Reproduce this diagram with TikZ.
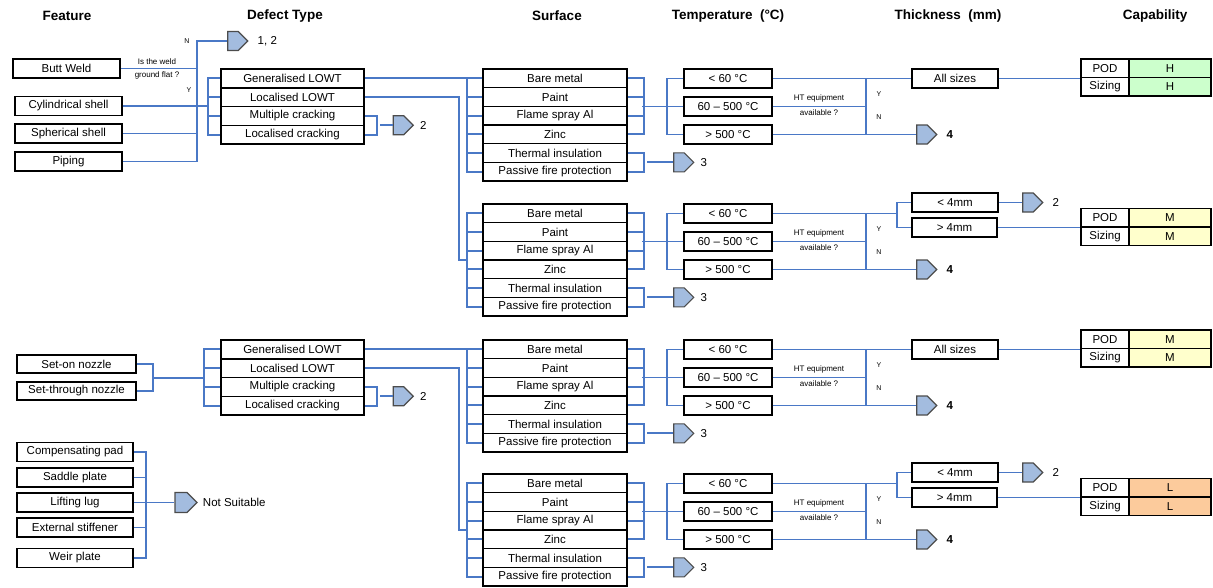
\documentclass[tikz,border=0pt]{standalone}
\usepackage{fontspec}
\setmainfont{Liberation Sans}
\usetikzlibrary{shapes.symbols,calc}
\definecolor{lnblue}{HTML}{4A78C6}
\definecolor{connfill}{HTML}{A3BCDF}
\definecolor{capH}{HTML}{CCFFCC}
\definecolor{capM}{HTML}{FFFFCC}
\definecolor{capL}{HTML}{FCCB9C}
\tikzset{
  bx/.style={draw=black, line width=1.5pt, rectangle, inner sep=0pt, font=\fontsize{11.5}{12}\selectfont},
  ln/.style={draw=lnblue, line width=1.9pt},
  offp/.style={signal, signal to=east, signal pointer angle=90, draw=black!70, line width=1.1pt, fill=connfill, minimum width=20pt, minimum height=19pt, inner sep=0pt},
  hdr/.style={font=\fontsize{13.5}{15}\selectfont\bfseries, inner sep=0pt},
  tiny/.style={font=\fontsize{8}{9}\selectfont, inner sep=0pt},
  yn/.style={font=\fontsize{7}{8}\selectfont, inner sep=0pt},
  num/.style={font=\fontsize{11.5}{12}\selectfont, anchor=west, inner sep=0pt},
  cell/.style={bx, minimum height=18.5pt},
}

\newcommand{\defgroup}[3]{% prefix, top, bracket offset
  \foreach \t [count=\i] in {Generalised LOWT,Localised LOWT,Multiple cracking,Localised cracking}{
    \node[bx, minimum width=143pt, minimum height=18.75pt] (#1d\i) at (292.5,{#2+18.75*(\i-0.5)}) {\t};
  }
  \draw[ln] (#1d1.west) -- ++(-#3,0) |- (#1d4.west);
  \draw[ln] (#1d2.west) -- ++(-#3,0);
  \draw[ln] (#1d3.west) -- ++(-#3,0);
  \node[offp] (#1p2) at (398.5,{#2+56.25}) {};
  \node[num] (#1n2) at ([xshift=6pt]#1p2.east) {2};
  \draw[ln] (#1d3.east) -- ++(12,0) |- (#1d4.east);
  \draw[ln] (#1p2.west) -- ++(-13,0);
}

\newcommand{\surfgroup}[2]{% prefix, top
  \foreach \t [count=\i] in {Bare metal,Paint,Flame spray Al,Zinc,Thermal insulation,Passive fire protection}{
    \node[bx, minimum width=144pt, minimum height=18.67pt] (#1s\i) at (555,{#2+18.67*(\i-0.5)}) {\t};
  }
  \draw[ln] (#1s1.west) -- ++(-15,0) |- (#1s6.west);
  \foreach \i in {2,...,5}{\draw[ln] (#1s\i.west) -- ++(-15,0);}
  \draw[ln] (#1s1.east) -- ++(16,0) |- (#1s4.east);
  \draw[ln] (#1s2.east) -- ++(16,0);
  \draw[ln] (#1s3.east) -- ++(16,0);
  \draw[ln] (#1s5.east) -- ++(16,0) |- (#1s6.east);
  \node[offp] (#1p3) at (679,{#2+93.33}) {};
  \node[num] (#1n3) at ([xshift=6pt]#1p3.east) {3};
  \draw[ln] (#1p3.west) -- ++(-26,0);
  \node[bx, minimum width=88pt, minimum height=19pt] (#1t1) at (728,{#2+9.5}) {< 60 °C};
  \node[bx, minimum width=88pt, minimum height=19pt] (#1t2) at (728,{#2+37.5}) {60 – 500 °C};
  \node[bx, minimum width=88pt, minimum height=19pt] (#1t3) at (728,{#2+65.5}) {> 500 °C};
  \draw[ln] (#1t1.west) -- ++(-16,0) |- (#1t3.west);
  \draw[ln] (#1t2.west) -- ++(-41,0);
  \coordinate (#1j1) at (866,{#2+9.5});
  \coordinate (#1j3) at (866,{#2+65.5});
  \draw[ln] (#1j1) -- (#1j3);
  \draw[ln] (#1t2.east) -- (#1t2.east -| #1j1);
  \node[offp] (#1p4) at (922,{#2+65.5}) {};
  \node[num, font=\fontsize{11.5}{12}\selectfont\bfseries] (#1n4) at ([xshift=9pt]#1p4.east) {4};
  \draw[ln] (#1t3.east) -- (#1p4.west);
  \node[tiny] (#1q1) at (819,{#2+29}) {HT equipment};
  \node[tiny] (#1q2) at (819,{#2+44}) {available ?};
  \node[yn] (#1y) at (879,{#2+25}) {Y};
  \node[yn] (#1n) at (879,{#2+48}) {N};
}

\newcommand{\captable}[4]{% prefix, top, colour, value
  \node[cell, minimum width=48pt] (#1c1) at (1105,{#2+9.25}) {POD};
  \node[cell, minimum width=48pt] (#1c2) at (1105,{#2+27.75}) {Sizing};
  \node[cell, minimum width=82pt, fill=#3] (#1c3) at (1170,{#2+9.25}) {#4};
  \node[cell, minimum width=82pt, fill=#3] (#1c4) at (1170,{#2+27.75}) {#4};
}

\newcommand{\allsizes}[4]{% prefix, top, colour, value
  \node[bx, minimum width=86pt, minimum height=19pt] (#1a) at (955,{#2+9.5}) {All sizes};
  \draw[ln] (#1t1.east) -- (#1a.west);
  \captable{#1}{#2-10}{#3}{#4}
  \draw[ln] (#1a.east) -- (#1a.east -| #1c1.west);
}

\newcommand{\thickgroup}[4]{% prefix, top, colour, value
  \coordinate (#1k) at (898,{#2+9.5});
  \draw[ln] (#1t1.east) -- (#1k);
  \node[bx, minimum width=86pt, minimum height=19pt] (#1lt) at (955,{#2-1.5}) {< 4mm};
  \node[bx, minimum width=85pt, minimum height=19pt] (#1gt) at (954.5,{#2+23.5}) {> 4mm};
  \draw[ln] (#1lt.west) -- ++(-14,0) |- (#1gt.west);
  \node[offp] (#1pb) at (1028,{#2-1.5}) {};
  \node[num] (#1nb) at ([xshift=9pt]#1pb.east) {2};
  \draw[ln] (#1lt.east) -- (#1pb.west);
  \captable{#1}{#2+4.5}{#3}{#4}
  \draw[ln] (#1gt.east) -- (#1gt.east -| #1c1.west);
}

\begin{document}
\begin{tikzpicture}[x=1pt,y=-1pt]
\useasboundingbox (0,0) rectangle (1213,587);
\fill[white] (0,0) rectangle (1213,587);
% headers
\node[hdr] (h1) at (67,16) {Feature};
\node[hdr] (h2) at (285,16) {Defect Type};
\node[hdr] (h3) at (557,16) {Surface};
\node[hdr] (h4) at (728,16) {Temperature\ \ (°C)};
\node[hdr] (h5) at (948,16) {Thickness\ \ (mm)};
\node[hdr] (h6) at (1155,16) {Capability};

% features, upper block
\node[bx, minimum width=107pt, minimum height=19pt] (bw) at (66.5,68.5) {Butt Weld};
\node[bx, minimum width=107pt, minimum height=19pt] (cyl) at (68.5,106) {Cylindrical shell};
\node[bx, minimum width=107pt, minimum height=19pt] (sph) at (68.5,133.5) {Spherical shell};
\node[bx, minimum width=107pt, minimum height=19pt] (pip) at (68.5,161.5) {Piping};
\coordinate (fq) at (197,41);
\node[offp] (p12) at (233,41) {};
\node[num] (n12) at ([xshift=9pt]p12.east) {1, 2};
\draw[ln] (pip.east) -| (fq) -- (p12.west);
\draw[ln] (bw.east) -- (bw.east -| fq);
\draw[ln] (sph.east) -- (sph.east -| fq);
\node[tiny] (w1) at (157,62) {Is the weld};
\node[tiny] (w2) at (157,75) {ground flat ?};
\node[yn] (wn) at (187,41) {N};
\node[yn] (wy) at (189,90) {Y};

\defgroup{DA}{69}{12}
\draw[ln] (cyl.east) -- ([xshift=-12pt]cyl.east -| DAd1.west);

% features, nozzles
\node[bx, minimum width=119pt, minimum height=18pt] (son) at (76.5,364) {Set-on nozzle};
\node[bx, minimum width=119pt, minimum height=18pt] (sth) at (76.5,391) {Set-through nozzle};
\draw[ln] (son.east) -- ++(16,0) |- (sth.east);
\coordinate (nz) at (152,378);
\defgroup{DB}{340}{16}
\draw[ln] (nz) -- ([xshift=-16pt]nz -| DBd1.west);

% not suitable
\foreach \t/\yy [count=\i] in {Compensating pad/452,Saddle plate/477.5,Lifting lug/502.5,External stiffener/527.5,Weir plate/558}{
  \node[bx, minimum width=116pt, minimum height=19pt] (ns\i) at (75,\yy) {\t};
}
\draw[ln] (ns1.east) -- ++(12,0) |- (ns5.east);
\foreach \i in {2,3,4}{\draw[ln] (ns\i.east) -- ++(12,0);}
\node[offp, minimum width=22pt, minimum height=20pt] (pns) at (181,502.5) {};
\node[num] (tns) at ([xshift=5pt]pns.east) {Not Suitable};
\draw[ln] (ns3.east) -- (pns.west);

% surface groups
\surfgroup{A}{69}
\surfgroup{B}{204}
\surfgroup{C}{340}
\surfgroup{D}{474}

\draw[ln] (DAd1.east) -- (DAd1.east -| As1.west);
\coordinate (Bin) at (468,260);
\draw[ln] (DAd2.east) -| ([xshift=-9pt]Bin) -- (Bin);
\draw[ln] (DBd1.east) -- (DBd1.east -| Cs1.west);
\coordinate (Din) at (468,530);
\draw[ln] (DBd2.east) -| ([xshift=-9pt]Din) -- (Din);

% thickness and capability
\allsizes{A}{69}{capH}{H}
\thickgroup{B}{204}{capM}{M}
\allsizes{C}{340}{capM}{M}
\thickgroup{D}{474}{capL}{L}
\end{tikzpicture}
\end{document}
